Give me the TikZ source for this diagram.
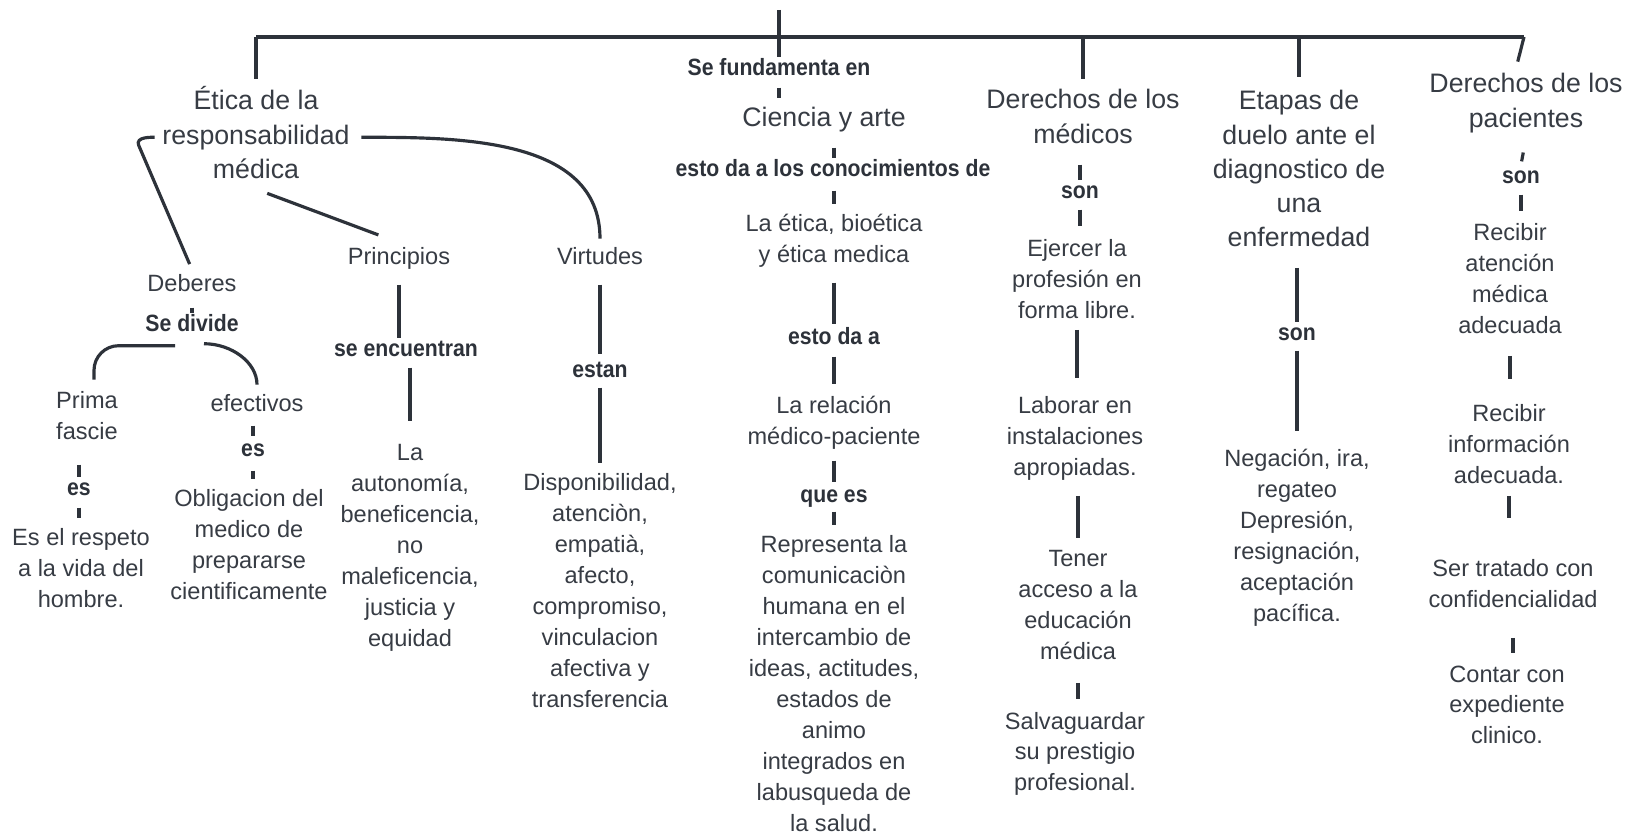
\documentclass[tikz,border=0pt]{standalone}
\usepackage{fontspec}
\setmainfont{Liberation Sans}
\newfontfamily\labelfont[FakeStretch=0.9]{Liberation Sans Bold}
\usepackage{xcolor}
\usepackage{tikz}

\definecolor{linecol}{RGB}{45,50,58}
\definecolor{textcol}{RGB}{55,60,68}

\newcommand\stk[1]{\begin{tabular}[t]{@{}c@{}}#1\end{tabular}}

\tikzset{
  link/.style={draw=linecol, line width=0.9pt},
  title/.style={anchor=base, inner sep=0pt, text=textcol, font=\fontsize{7.6}{9.7}\selectfont},
  entry/.style={anchor=base, inner sep=0pt, text=textcol, font=\fontsize{6.7}{8.8}\selectfont},
  relword/.style={anchor=base, inner sep=0pt, text=linecol, font=\labelfont\fontsize{6.7}{7.6}\selectfont},
}

\begin{document}
\begin{tikzpicture}[x=0.01cm, y=-0.01cm]
  \fill[white] (0,0) rectangle (1627,837);
  \useasboundingbox (0,0) rectangle (1627,837);

  % Top level
  \node[relword] (sefund) at (779,76) {\stk{Se fundamenta en}};
  \node[title] (etica) at (256,110) {\stk{Ética de la\\responsabilidad\\médica}};
  \node[title] (ciencia) at (824,127) {\stk{Ciencia y arte}};
  \node[title] (dmed) at (1083,109) {\stk{Derechos de los\\médicos}};
  \node[title] (etapas) at (1299,110) {\stk{Etapas de\\duelo ante el\\diagnostico de\\una\\enfermedad}};
  \node[title] (dpac) at (1526,93) {\stk{Derechos de los\\pacientes}};

  % Etica branch
  \node[entry] (deberes) at (192,292) {\stk{Deberes}};
  \node[relword] (sedivide) at (192,332) {\stk{Se divide}};
  \node[entry] (prima) at (87,409) {\stk{Prima\\fascie}};
  \node[relword] (es1) at (79,496) {\stk{es}};
  \node[entry] (respeto) at (81,546) {\stk{Es el respeto\\a la vida del\\hombre.}};
  \node[entry] (efectivos) at (257,412) {\stk{efectivos}};
  \node[relword] (es2) at (253,457) {\stk{es}};
  \node[entry] (obligacion) at (249,507) {\stk{Obligacion del\\medico de\\prepararse\\cientificamente}};
  \node[entry] (principios) at (399,265) {\stk{Principios}};
  \node[relword] (seenc) at (406,357) {\stk{se encuentran}};
  \node[entry] (autonomia) at (410,461) {\stk{La\\autonomía,\\beneficencia,\\no\\maleficencia,\\justicia y\\equidad}};
  \node[entry] (virtudes) at (600,265) {\stk{Virtudes}};
  \node[relword] (estan) at (600,378) {\stk{estan}};
  \node[entry] (disponib) at (600,491) {\stk{Disponibilidad,\\atenciòn,\\empatià,\\afecto,\\compromiso,\\vinculacion\\afectiva y\\transferencia}};

  % Ciencia branch
  \node[relword] (estoda1) at (833,177) {\stk{esto da a los conocimientos de}};
  \node[entry] (eticas) at (834,232) {\stk{La ética, bioética\\y ética medica}};
  \node[relword] (estoda2) at (834,345) {\stk{esto da a}};
  \node[entry] (relacion) at (834,414) {\stk{La relación\\médico-paciente}};
  \node[relword] (quees) at (834,503) {\stk{que es}};
  \node[entry] (representa) at (834,553) {\stk{Representa la\\comunicaciòn\\humana en el\\intercambio de\\ideas, actitudes,\\estados de\\animo\\integrados en\\labusqueda de\\la salud.}};

  % Derechos de los medicos
  \node[relword] (son1) at (1080,199) {\stk{son}};
  \node[entry] (ejercer) at (1077,257) {\stk{Ejercer la\\profesión en\\forma libre.}};
  \node[entry] (laborar) at (1075,414) {\stk{Laborar en\\instalaciones\\apropiadas.}};
  \node[entry] (tener) at (1078,567) {\stk{Tener\\acceso a la\\educación\\médica}};
  \node[entry] (salvag) at (1075,729) {\stk{Salvaguardar\\su prestigio\\profesional.}};

  % Etapas de duelo
  \node[relword] (son2) at (1297,341) {\stk{son}};
  \node[entry] (negacion) at (1297,467) {\stk{Negación, ira,\\regateo\\Depresión,\\resignación,\\aceptación\\pacífica.}};

  % Derechos de los pacientes
  \node[relword] (son3) at (1521,184) {\stk{son}};
  \node[entry] (recibir1) at (1510,241) {\stk{Recibir\\atención\\médica\\adecuada}};
  \node[entry] (recibir2) at (1509,422) {\stk{Recibir\\información\\adecuada.}};
  \node[entry] (ser) at (1513,577) {\stk{Ser tratado con\\confidencialidad}};
  \node[entry] (contar) at (1507,682) {\stk{Contar con\\expediente\\clinico.}};

  % Trunk
  \coordinate (root) at (779,10);
  \coordinate (barL) at (256,37);
  \coordinate (barR) at (1524,37);
  \draw[link] (barL) -- (barR);
  \draw[link] (root) -- (sefund.north);
  \draw[link, shorten >=0.6mm] (barL) -- (etica.north);
  \draw[link, shorten >=0.5mm] (dmed.north |- barL) -- (dmed.north);
  \draw[link, shorten >=0.8mm] (etapas.north |- barL) -- (etapas.north);
  \draw[link, shorten >=0.7mm] (barR) -- ([shift={(-10,0)}]dpac.north);

  % Etica links
  \draw[link, shorten <=0.7mm, shorten >=0.6mm] (etica.west) to[out=180,in=113] ++(-23,8) -- (deberes.north);
  \draw[link, shorten <=1.2mm, shorten >=2.2mm] (etica.south) -- (principios.north);
  \draw[link, shorten <=1.1mm, shorten >=0.4mm] (etica.east) to[out=0,in=90] (virtudes.north);
  \draw[link, shorten <=0.57mm] (deberes.south) -- (deberes.south |- sedivide.north);
  \draw[link, rounded corners=7pt, shorten >=0.7mm] ([shift={(-17,5)}]sedivide.south) -| ([shift={(7,0)}]prima.north);
  \draw[link, shorten >=0.5mm] ([shift={(12,3)}]sedivide.south) to[out=0,in=90] (efectivos.north);
  \draw[link, shorten <=1.47mm] (es1.north |- prima.south) -- (es1.north);
  \draw[link, shorten <=0.3mm, shorten >=0.53mm] (es1.south) -- (es1.south |- respeto.north);
  \draw[link, shorten <=0.37mm, shorten >=0.13mm] (es2.north |- efectivos.south) -- (es2.north);
  \draw[link, shorten <=0.5mm, shorten >=0.53mm] (es2.south) -- (es2.south |- obligacion.north);
  \draw[link, shorten <=0.97mm] (principios.south) -- (principios.south |- seenc.north);
  \draw[link, shorten <=0.2mm, shorten >=1.73mm] (autonomia.north |- seenc.south) -- (autonomia.north);
  \draw[link, shorten <=0.97mm, shorten >=0.43mm] (virtudes.south) -- (virtudes.south |- estan.north);
  \draw[link, shorten <=0.1mm, shorten >=0.53mm] (estan.south) -- (estan.south |- disponib.north);

  % Ciencia links
  \draw[link, shorten <=0.3mm, shorten >=0.42mm] (sefund.south) -- (sefund.south |- ciencia.north);
  \draw[link, shorten <=0.98mm] (eticas.north |- ciencia.south) -- (eticas.north |- estoda1.north);
  \draw[link, shorten <=0.5mm, shorten >=0.53mm] (eticas.north |- estoda1.south) -- (eticas.north);
  \draw[link, shorten <=0.98mm, shorten >=0.13mm] (eticas.south) -- (eticas.south |- estoda2.north);
  \draw[link, shorten <=0.3mm, shorten >=0.73mm] (estoda2.south) -- (estoda2.south |- relacion.north);
  \draw[link, shorten <=0.58mm, shorten >=0.13mm] (relacion.south) -- (relacion.south |- quees.north);
  \draw[link, shorten >=0.53mm] (quees.south) -- (quees.south |- representa.north);

  % Medicos links
  \draw[link, shorten <=1.07mm] (son1.north |- dmed.south) -- (son1.north);
  \draw[link, shorten <=0.2mm, shorten >=0.83mm] (son1.south) -- (son1.south |- ejercer.north);
  \draw[link, shorten <=0.1mm, shorten >=1.33mm] (ejercer.south) -- (ejercer.south |- laborar.north);
  \draw[link, shorten <=1.0mm, shorten >=0.63mm] (tener.north |- laborar.south) -- (tener.north);
  \draw[link, shorten <=1.3mm, shorten >=0.73mm] (tener.south) -- (tener.south |- salvag.north);

  % Etapas links
  \draw[link, shorten <=1.04mm] (son2.north |- etapas.south) -- (son2.north);
  \draw[link, shorten <=0.1mm, shorten >=1.33mm] (son2.south) -- (son2.south |- negacion.north);

  % Pacientes links
  \draw[link, shorten <=1.47mm, shorten >=0.33mm] (dpac.south) -- (son3.north);
  \draw[link, shorten <=0.2mm, shorten >=0.73mm] (son3.south) -- (son3.south |- recibir1.north);
  \draw[link, shorten <=1.2mm, shorten >=2.03mm] (recibir1.south) -- (recibir1.south |- recibir2.north);
  \draw[link, shorten <=0.2mm, shorten >=3.63mm] (recibir2.south) -- (recibir2.south |- ser.north);
  \draw[link, shorten <=2.0mm, shorten >=0.63mm] (ser.south) -- (ser.south |- contar.north);
\end{tikzpicture}
\end{document}
